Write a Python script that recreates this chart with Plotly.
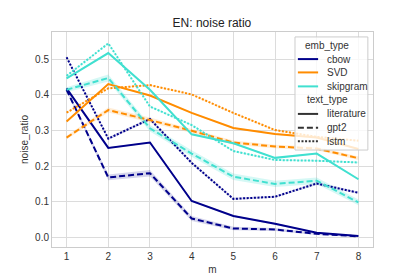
import plotly.graph_objects as go

m = [1, 2, 3, 4, 5, 6, 7, 8]
emb_types = ["cbow", "SVD", "skipgram"]
text_types = ["literature", "gpt2", "lstm"]
colors = {"cbow": "#00008b", "SVD": "#ff8c00", "skipgram": "#40e0d0"}
band_colors = {"cbow": "rgba(0,0,139,0.16)", "SVD": "rgba(255,140,0,0.16)", "skipgram": "rgba(64,224,208,0.22)"}
dashes = {"literature": "solid", "gpt2": "6px,3px", "lstm": "2px,1.6px"}

cbow_literature = [0.418, 0.251, 0.266, 0.102, 0.060, 0.038, 0.013, 0.004]
cbow_gpt2 = [0.414, 0.168, 0.180, 0.053, 0.025, 0.022, 0.010, 0.003]
cbow_lstm = [0.505, 0.277, 0.332, 0.209, 0.108, 0.114, 0.151, 0.125]
svd_literature = [0.325, 0.430, 0.398, 0.349, 0.307, 0.290, 0.280, 0.248]
svd_gpt2 = [0.280, 0.357, 0.329, 0.299, 0.266, 0.255, 0.249, 0.222]
svd_lstm = [0.350, 0.418, 0.427, 0.401, 0.349, 0.301, 0.282, 0.271]
skipgram_literature = [0.446, 0.517, 0.414, 0.289, 0.264, 0.223, 0.235, 0.163]
skipgram_gpt2 = [0.414, 0.447, 0.306, 0.235, 0.170, 0.150, 0.159, 0.098]
skipgram_lstm = [0.453, 0.544, 0.367, 0.315, 0.242, 0.217, 0.215, 0.210]

# confidence-interval half widths
cbow_literature_ci = [0.002, 0.002, 0.002, 0.002, 0.002, 0.002, 0.001, 0.001]
cbow_gpt2_ci = [0.005, 0.008, 0.009, 0.007, 0.005, 0.004, 0.003, 0.002]
cbow_lstm_ci = [0.003, 0.004, 0.004, 0.004, 0.003, 0.003, 0.004, 0.003]
svd_literature_ci = [0.002, 0.002, 0.002, 0.002, 0.002, 0.002, 0.002, 0.002]
svd_gpt2_ci = [0.005, 0.007, 0.007, 0.006, 0.006, 0.005, 0.005, 0.005]
svd_lstm_ci = [0.002, 0.002, 0.002, 0.002, 0.002, 0.002, 0.002, 0.002]
skipgram_literature_ci = [0.002, 0.002, 0.002, 0.002, 0.002, 0.002, 0.002, 0.002]
skipgram_gpt2_ci = [0.007, 0.010, 0.009, 0.009, 0.009, 0.009, 0.009, 0.008]
skipgram_lstm_ci = [0.002, 0.002, 0.002, 0.002, 0.002, 0.002, 0.002, 0.002]

series = {
    ("cbow", "literature"): (cbow_literature, cbow_literature_ci),
    ("cbow", "gpt2"): (cbow_gpt2, cbow_gpt2_ci),
    ("cbow", "lstm"): (cbow_lstm, cbow_lstm_ci),
    ("SVD", "literature"): (svd_literature, svd_literature_ci),
    ("SVD", "gpt2"): (svd_gpt2, svd_gpt2_ci),
    ("SVD", "lstm"): (svd_lstm, svd_lstm_ci),
    ("skipgram", "literature"): (skipgram_literature, skipgram_literature_ci),
    ("skipgram", "gpt2"): (skipgram_gpt2, skipgram_gpt2_ci),
    ("skipgram", "lstm"): (skipgram_lstm, skipgram_lstm_ci),
}

fig = go.Figure()

for (emb, txt), (vals, ci) in series.items():
    upper = [v + c for v, c in zip(vals, ci)]
    lower = [v - c for v, c in zip(vals, ci)]
    fig.add_trace(go.Scatter(x=m, y=upper, mode="lines", line=dict(width=0),
                             showlegend=False, hoverinfo="skip"))
    fig.add_trace(go.Scatter(x=m, y=lower, mode="lines", line=dict(width=0),
                             fill="tonexty", fillcolor=band_colors[emb],
                             showlegend=False, hoverinfo="skip"))

for (emb, txt), (vals, ci) in series.items():
    fig.add_trace(go.Scatter(x=m, y=vals, mode="lines", name=f"{emb}, {txt}",
                             line=dict(color=colors[emb], width=2, dash=dashes[txt]),
                             showlegend=False))

# ---- legend (built from shapes + annotations in paper coordinates) ----
shapes = [dict(type="rect", xref="paper", yref="paper", x0=0.757, x1=0.984, y0=0.451, y1=0.977,
               fillcolor="rgba(255,255,255,0.8)", line=dict(color="#cccccc", width=1), layer="above")]
annotations = []
row_y = [0.935, 0.874, 0.812, 0.747, 0.684, 0.619, 0.555, 0.492]
entries = [("title", "emb_type", None)] + [("item", e, dict(color=colors[e], dash="solid")) for e in emb_types] \
    + [("title", "text_type", None)] + [("item", t, dict(color="#333333", dash=dashes[t])) for t in text_types]
for (kind, label, style), yy in zip(entries, row_y):
    if kind == "title":
        annotations.append(dict(xref="paper", yref="paper", x=0.857, y=yy, text=label, showarrow=False,
                                xanchor="center", yanchor="middle", font=dict(size=10, color="#333333")))
    else:
        shapes.append(dict(type="line", xref="paper", yref="paper", x0=0.766, x1=0.829, y0=yy, y1=yy,
                           line=dict(color=style["color"], width=2, dash=style["dash"]), layer="above"))
        annotations.append(dict(xref="paper", yref="paper", x=0.852, y=yy, text=label, showarrow=False,
                                xanchor="left", yanchor="middle", font=dict(size=10, color="#333333")))

grid = "#dcdcdc"
fig.update_layout(
    width=407, height=269,
    margin=dict(l=44, r=42, t=24, b=30, autoexpand=False),
    paper_bgcolor="white", plot_bgcolor="white",
    font=dict(family="Liberation Sans, Arial", size=10, color="#333333"),
    title=dict(text="EN: noise ratio", x=0.501, xanchor="center", y=0.944, yanchor="middle",
               font=dict(size=12, color="#222222")),
    showlegend=False,
    shapes=shapes,
    annotations=annotations,
    xaxis=dict(title=dict(text="m", standoff=4, font=dict(size=10)),
               range=[0.65, 8.35], tickvals=m, showgrid=True, gridcolor=grid,
               zeroline=False, showline=True, linecolor="#cccccc", mirror=True,
               ticks="", tickfont=dict(size=10), automargin=False),
    yaxis=dict(title=dict(text="noise_ratio", standoff=4, font=dict(size=10)),
               range=[-0.027, 0.576], tickvals=[0.0, 0.1, 0.2, 0.3, 0.4, 0.5],
               tickformat=".1f", showgrid=True, gridcolor=grid,
               zeroline=False, showline=True, linecolor="#cccccc", mirror=True,
               ticks="", tickfont=dict(size=10), automargin=False),
)

fig.write_html("out.html")
